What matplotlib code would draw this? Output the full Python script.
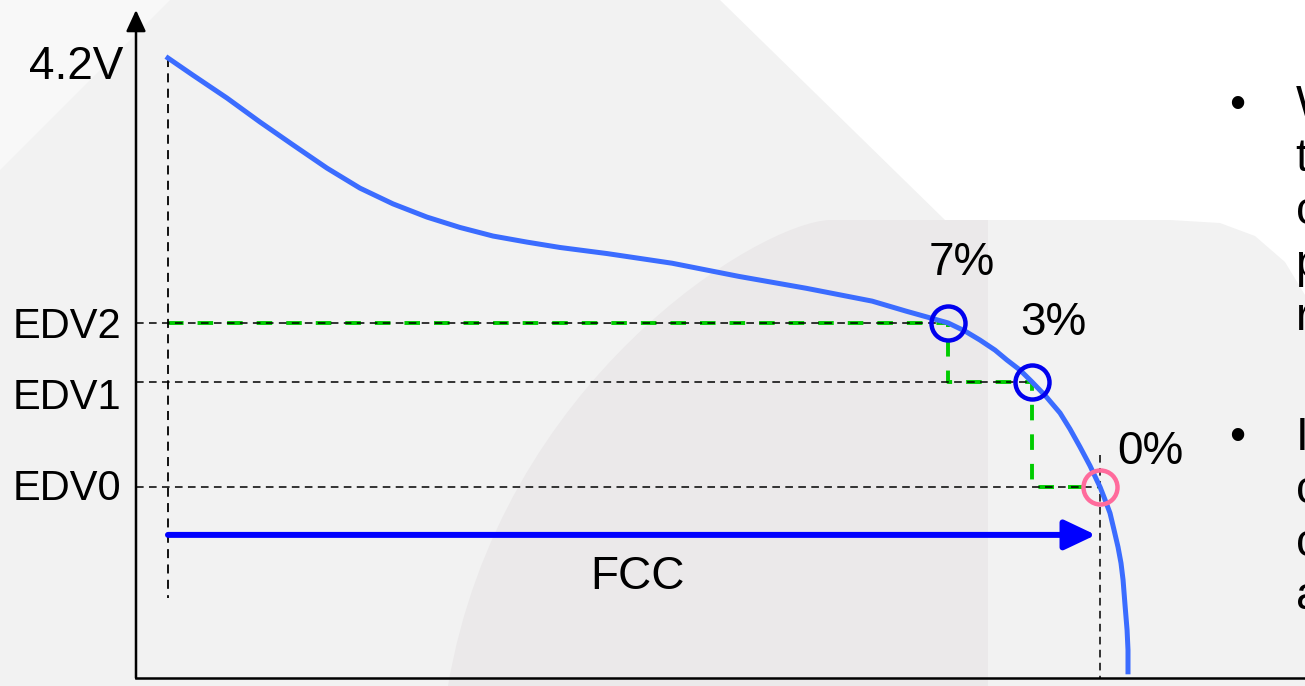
import numpy as np
import matplotlib
matplotlib.use("Agg")
import matplotlib.pyplot as plt
from matplotlib.patches import Polygon, PathPatch
from matplotlib.path import Path

plt.rcParams['font.family'] = ['Liberation Sans', 'DejaVu Sans']

# discharge curve, capacity used in % of FCC vs cell voltage (schematic)
cap = [0.0, 2.68, 6.33, 9.87, 13.41, 17.06, 20.60, 24.14, 27.79, 31.33, 34.87, 38.52,
       42.06, 47.10, 54.08, 61.27, 68.45, 75.54, 79.18, 83.69, 85.52, 87.12, 88.73,
       90.02, 91.42, 92.70, 94.21, 95.71, 96.78, 97.85, 98.93, 100.0, 100.54, 101.07,
       101.50, 101.93, 102.25, 102.47, 102.68, 102.90, 103.0, 103.0]
volt = [4.200, 4.152, 4.088, 4.021, 3.957, 3.892, 3.836, 3.792, 3.755, 3.726, 3.702, 3.685,
        3.670, 3.653, 3.626, 3.589, 3.556, 3.520, 3.492, 3.459, 3.436, 3.411, 3.383,
        3.355, 3.327, 3.294, 3.253, 3.207, 3.162, 3.112, 3.059, 3.000, 2.964, 2.927,
        2.880, 2.832, 2.787, 2.740, 2.670, 2.600, 2.544, 2.483]

v_full = 4.2
v_label = '4.2V'
edv_names = ['EDV2', 'EDV1', 'EDV0']
edv_volt = [3.459, 3.294, 3.0]
edv_cap = [83.69, 92.70, 100.0]
edv_pct = ['7%', '3%', '0%']
fcc = 100.0

bullet1 = ['When the battery voltage', 'touches EDV2 and EDV1,', 'compensation keeps',
           'predicted capacity', 'reaching 0% at EDV0']
bullet2 = ['If the discharge', 'continues to EDV0,', 'capacity learning',
           'adjusts the new FCC']

fig = plt.figure(figsize=(13.05, 6.86), dpi=100)
fig.patch.set_facecolor('#f2f2f2')

# slide background shapes (pixel space)
bg = fig.add_axes([0, 0, 1, 1], zorder=-5)
bg.set_xlim(0, 1305)
bg.set_ylim(686, 0)
bg.axis('off')
bg.add_patch(Polygon([(0, 0), (170, 0), (0, 170)], closed=True, color='white', alpha=0.5, lw=0))
bg.add_patch(Polygon([(720, 0), (1305, 0), (1305, 295), (1285, 262), (1255, 236), (1220, 223),
                      (1170, 220), (945, 220)], closed=True, color='white', lw=0))
dark = Path([(988, 220), (830, 220), (760, 222), (500, 380), (448, 686), (988, 686), (988, 220)],
            [Path.MOVETO, Path.LINETO, Path.CURVE4, Path.CURVE4, Path.CURVE4, Path.LINETO, Path.CLOSEPOLY])
bg.add_patch(PathPatch(dark, facecolor='#ebe9ea', lw=0))

# right-hand bullet text (runs off the slide)
for i, line in enumerate(bullet1):
    y = 118 + 53 * i
    if i == 0:
        bg.text(1237, y, '\u2022', fontsize=33, ha='center', va='baseline')
    bg.text(1296, y, line, fontsize=33, ha='left', va='baseline')
for i, line in enumerate(bullet2):
    y = 450 + 53 * i
    if i == 0:
        bg.text(1237, y, '\u2022', fontsize=33, ha='center', va='baseline')
    bg.text(1296, y, line, fontsize=33, ha='left', va='baseline')

# chart axes
ax = fig.add_axes([136 / 1305, 8 / 686, 1169 / 1305, 668 / 686])
ax.set_facecolor('none')
ax.set_xlim(-3.43, 121.99)
ax.set_ylim(2.4657, 4.3343)
for s in ['top', 'right', 'left']:
    ax.spines[s].set_visible(False)
ax.spines['bottom'].set_linewidth(1.8)
ax.set_xticks([])
ax.set_yticks([])
ax.annotate('', xy=(0, 1), xytext=(0, 0), xycoords='axes fraction',
            arrowprops=dict(arrowstyle='-|>,head_length=1.3,head_width=0.6', mutation_scale=10,
                            lw=1.8, color='black', shrinkA=0, shrinkB=0))
x0 = ax.get_xlim()[0]

# EDV reference lines
for v, c in zip(edv_volt, edv_cap):
    ax.plot([x0, c], [v, v], color='black', lw=1.1, dashes=(5, 3.5), zorder=3)
ax.plot([0, 0], [v_full, 2.689], color='black', lw=1.3, dashes=(5, 3.5), zorder=3)
ax.plot([fcc, fcc], [3.09, ax.get_ylim()[0]], color='black', lw=1.1, dashes=(5, 3.5), zorder=3)

# green step path between EDV points
sx = [0]
sy = [edv_volt[0]]
for i in range(len(edv_cap)):
    sx.append(edv_cap[i])
    sy.append(edv_volt[i])
    if i + 1 < len(edv_cap):
        sx.append(edv_cap[i])
        sy.append(edv_volt[i + 1])
ax.plot(sx, sy, color='#00cc00', lw=2.8, dashes=(4, 3.6), zorder=2)

ax.plot(cap, volt, color='#3b6cff', lw=3.6, zorder=4, solid_joinstyle='round')

ax.plot(edv_cap[:2], edv_volt[:2], 'o', ms=24.5, mfc='none', mec='#0000ee', mew=3.2, zorder=5)
ax.plot(edv_cap[2:], edv_volt[2:], 'o', ms=24.5, mfc='none', mec='#ff6b9c', mew=3.2, zorder=5)

# labels
ax.annotate(v_label, xy=(x0, v_full), xytext=(-13, -21), textcoords='offset pixels',
            ha='right', va='baseline', fontsize=33)
edv_dy = [-15, -27, -13]
for name, v, dy in zip(edv_names, edv_volt, edv_dy):
    ax.annotate(name, xy=(x0, v), xytext=(-123, dy), textcoords='offset pixels',
                ha='left', va='baseline', fontsize=30)
pct_off = [(14, 48), (21, 47), (50, 23)]
for p, c, v, off in zip(edv_pct, edv_cap, edv_volt, pct_off):
    ax.annotate(p, xy=(c, v), xytext=off, textcoords='offset pixels',
                ha='center', va='baseline', fontsize=33)

# FCC arrow
fcc_y = 2.866
ax.annotate('', xy=(fcc, fcc_y), xytext=(0, fcc_y),
            arrowprops=dict(arrowstyle='-|>,head_length=1.9,head_width=0.9', mutation_scale=10,
                            lw=4.3, color='#0000ff', shrinkA=0, shrinkB=3))
ax.annotate('FCC', xy=(fcc / 2, fcc_y), xytext=(3, -54), textcoords='offset pixels',
            ha='center', va='baseline', fontsize=33)

fig.savefig('out.png', dpi=100)
